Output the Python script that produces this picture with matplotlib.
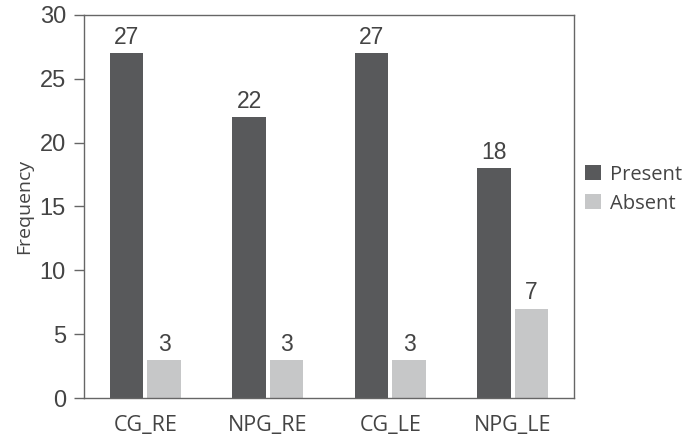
import matplotlib.pyplot as plt
import numpy as np

groups = ['CG_RE', 'NPG_RE', 'CG_LE', 'NPG_LE']
present = [27, 22, 27, 18]
absent = [3, 3, 3, 7]

dark = '#58595b'
light = '#c6c7c8'
txt = '#444444'

fig = plt.figure(figsize=(6.92, 4.38), dpi=100)
ax = fig.add_axes([0.1214, 0.0913, 0.7081, 0.8745])

x = np.arange(len(groups))
w = 0.275
b1 = ax.bar(x - 0.153, present, w, color=dark, label='Present')
b2 = ax.bar(x + 0.153, absent, w, color=light, label='Absent')
for bars in (b1, b2):
    ax.bar_label(bars, padding=3, fontsize=16.5, color=txt, family='Liberation Sans')

ax.set_xlim(-0.5, 3.5)
ax.set_ylim(0, 30)
ax.set_yticks(range(0, 31, 5))
ax.set_xticks(x)
ax.set_xticklabels(groups, family='Open Sans', fontsize=15.5, color=txt)
for t in ax.get_yticklabels():
    t.set_family('Liberation Sans')
    t.set_fontsize(17)
    t.set_color(txt)
ax.tick_params(axis='x', length=0, pad=12)
ax.tick_params(axis='y', length=7, width=1, color='#666666', pad=6)
for s in ax.spines.values():
    s.set_color('#666666')
    s.set_linewidth(1)

ax.set_ylabel('Frequency', family='Open Sans', fontsize=14, color=txt, labelpad=5)

ax.legend(loc='center left', bbox_to_anchor=(0.985, 0.545), frameon=False,
          prop={'family': 'Open Sans', 'size': 14.5}, labelcolor=txt,
          handlelength=0.8, handleheight=0.8, handletextpad=0.45, labelspacing=0.45)

fig.savefig('out.png', dpi=100)
